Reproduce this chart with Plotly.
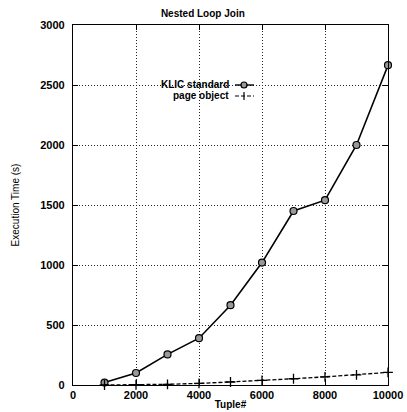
import plotly.graph_objects as go

tuples = [1000, 2000, 3000, 4000, 5000, 6000, 7000, 8000, 9000, 10000]
klic_standard = [20, 100, 255, 390, 665, 1020, 1450, 1540, 2000, 2665]
page_object = [0, 2, 6, 13, 25, 38, 52, 68, 85, 105]
series_names = ["KLIC standard", "page object"]
x_ticks = [0, 2000, 4000, 6000, 8000, 10000]
y_ticks = [0, 500, 1000, 1500, 2000, 2500, 3000]

W, H = 407, 412
ML, MR, MT, MB = 73, 19, 25, 27
PW, PH = W - ML - MR, H - MT - MB

def px(x):
    return (x - ML) / PW

def py(y):
    return (H - MB - y) / PH

FONT = "Liberation Sans, Arial, Helvetica, sans-serif"

fig = go.Figure()
fig.add_trace(go.Scatter(
    x=tuples, y=klic_standard, name=series_names[0], mode="lines+markers",
    line=dict(color="black", width=1.6),
    marker=dict(symbol="circle", size=7, color="#999999", line=dict(color="black", width=1.2)),
    showlegend=False, cliponaxis=False))
fig.add_trace(go.Scatter(
    x=tuples, y=page_object, name=series_names[1], mode="lines+markers",
    line=dict(color="black", width=1.3, dash="4px,2px"),
    marker=dict(symbol="cross-thin-open", size=7, color="black", line=dict(color="black", width=1.3)),
    showlegend=False, cliponaxis=False))

axis_common = dict(
    showline=True, linecolor="black", linewidth=1.2, mirror="ticks",
    ticks="inside", ticklen=5, tickcolor="black", tickwidth=1,
    showgrid=True, gridcolor="#222222", gridwidth=0.8, griddash="1px,2px",
    zeroline=False, automargin=False,
    tickfont=dict(family=FONT, size=11, color="black", weight="bold"),
)

fig.update_xaxes(range=[0, 10000], tickvals=x_ticks, ticktext=[str(v) for v in x_ticks],
                 title=dict(text="Tuple#", font=dict(family=FONT, size=10, color="black", weight="bold"), standoff=0),
                 ticklabelstandoff=0, **axis_common)
fig.update_yaxes(range=[0, 3000], tickvals=y_ticks, ticktext=[str(v) for v in y_ticks],
                 title=dict(text="Execution Time (s)", font=dict(family=FONT, size=10, color="black"), standoff=18),
                 ticklabelstandoff=5, **axis_common)

# legend (gnuplot style: label on the left, sample on the right)
rows = [85, 96]
annotations = []
shapes = []
for name, ry in zip(series_names, rows):
    annotations.append(dict(x=px(231), y=py(ry), xref="paper", yref="paper", text=name,
                            showarrow=False, xanchor="right", yanchor="middle",
                            font=dict(family=FONT, size=10, color="black", weight="bold")))
shapes.append(dict(type="line", xref="paper", yref="paper", x0=px(235), x1=px(254),
                   y0=py(rows[0]), y1=py(rows[0]), line=dict(color="black", width=1.4)))
shapes.append(dict(type="circle", xref="paper", yref="paper", x0=px(241), x1=px(247),
                   y0=py(rows[0] + 3), y1=py(rows[0] - 3), fillcolor="#999999",
                   line=dict(color="black", width=1.2)))
shapes.append(dict(type="line", xref="paper", yref="paper", x0=px(235), x1=px(254),
                   y0=py(rows[1]), y1=py(rows[1]), line=dict(color="black", width=1.2, dash="4px,2px")))
shapes.append(dict(type="line", xref="paper", yref="paper", x0=px(244), x1=px(244),
                   y0=py(rows[1] - 4), y1=py(rows[1] + 4), line=dict(color="black", width=1.2)))

fig.update_layout(
    width=W, height=H,
    margin=dict(l=ML, r=MR, t=MT, b=MB, autoexpand=False),
    paper_bgcolor="white", plot_bgcolor="white",
    title=dict(text="Nested Loop Join", x=px(230), xanchor="center", y=1 - 13 / H, yref="container",
               yanchor="middle", font=dict(family=FONT, size=10, color="black", weight="bold")),
    annotations=annotations, shapes=shapes,
    showlegend=False,
)

fig.write_html("out.html", config={"displayModeBar": False},
               post_script="document.body.style.margin='0px';document.body.style.padding='0px';")
